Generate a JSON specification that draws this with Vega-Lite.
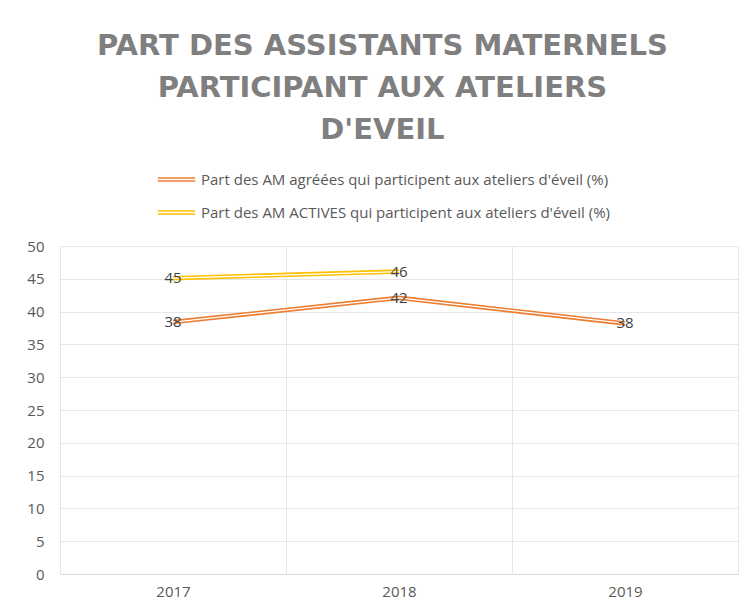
{
  "$schema": "https://vega.github.io/schema/vega-lite/v6.json",
  "autosize": "none",
  "width": 678,
  "height": 328,
  "padding": {"left": 60, "top": 246, "right": 8, "bottom": 40},
  "background": "white",
  "title": {
    "text": ["PART DES ASSISTANTS MATERNELS", "PARTICIPANT AUX ATELIERS", "D'EVEIL"],
    "font": "DejaVu Sans",
    "fontSize": 29,
    "fontWeight": "bold",
    "color": "#7f7f7f",
    "lineHeight": 42,
    "anchor": "middle",
    "frame": "bounds",
    "offset": 15
  },
  "data": {
    "values": [
      {"annee": "2017", "serie": "Part des AM agréées qui participent aux ateliers d'éveil (%)", "valeur": 38.4},
      {"annee": "2018", "serie": "Part des AM agréées qui participent aux ateliers d'éveil (%)", "valeur": 42.1},
      {"annee": "2019", "serie": "Part des AM agréées qui participent aux ateliers d'éveil (%)", "valeur": 38.2},
      {"annee": "2017", "serie": "Part des AM ACTIVES qui participent aux ateliers d'éveil (%)", "valeur": 45.1},
      {"annee": "2018", "serie": "Part des AM ACTIVES qui participent aux ateliers d'éveil (%)", "valeur": 46.1}
    ]
  },
  "encoding": {
    "x": {
      "field": "annee",
      "type": "ordinal",
      "scale": {"type": "band", "paddingInner": 0, "paddingOuter": 0},
      "axis": {
        "title": null,
        "labelAngle": 0,
        "labelFont": "Open Sans",
        "labelFontSize": 15,
        "labelColor": "#595959",
        "labelPadding": 10,
        "ticks": false,
        "domain": true,
        "domainColor": "#d9d9d9",
        "grid": true,
        "gridColor": "#e6e6e6",
        "tickBand": "extent"
      }
    },
    "y": {
      "field": "valeur",
      "type": "quantitative",
      "scale": {"domain": [0, 50], "nice": false},
      "axis": {
        "title": null,
        "values": [0, 5, 10, 15, 20, 25, 30, 35, 40, 45, 50],
        "labelFont": "Open Sans",
        "labelFontSize": 15,
        "labelColor": "#595959",
        "labelPadding": 16,
        "ticks": false,
        "domain": false,
        "grid": true,
        "gridColor": "#e6e6e6"
      }
    }
  },
  "layer": [
    {
      "mark": {"type": "line", "strokeWidth": 4.5},
      "encoding": {
        "color": {
          "field": "serie",
          "type": "nominal",
          "sort": ["Part des AM agréées qui participent aux ateliers d'éveil (%)", "Part des AM ACTIVES qui participent aux ateliers d'éveil (%)"],
          "scale": {"range": ["#ED7D31", "#FFC000"]},
          "legend": {
            "title": null,
            "orient": "none",
            "legendX": 97,
            "legendY": -86,
            "direction": "vertical",
            "symbolType": "M-1,-0.08H1M-1,0.08H1",
            "symbolSize": 1400,
            "symbolStrokeWidth": 1.5,
            "symbolFillColor": "transparent",
            "labelFont": "Open Sans",
            "labelFontSize": 15,
            "labelColor": "#595959",
            "labelOffset": 5,
            "rowPadding": 5,
            "labelLimit": 600
          }
        }
      }
    },
    {
      "mark": {"type": "line", "strokeWidth": 1.3, "color": "white"},
      "encoding": {"detail": {"field": "serie", "type": "nominal"}}
    },
    {
      "mark": {"type": "text", "font": "Open Sans", "fontSize": 15, "color": "#404040", "baseline": "middle", "align": "center"},
      "encoding": {
        "text": {"field": "valeur", "type": "quantitative", "format": ".0f"}
      }
    }
  ],
  "config": {"view": {"stroke": null}}
}
